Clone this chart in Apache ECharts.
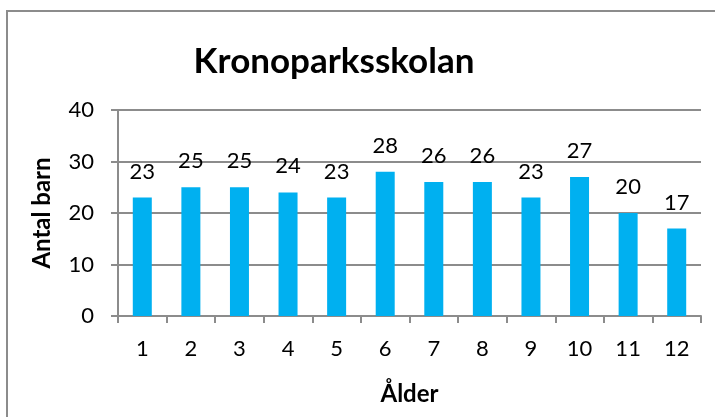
<!DOCTYPE html>
<html>
<head>
<meta charset="utf-8">
<script src="https://cdn.jsdelivr.net/npm/echarts@6/dist/echarts.min.js"></script>
<style>
  html, body { margin: 0; padding: 0; background: #fff; }
  #frame { position: absolute; left: 6px; top: 10px; width: 720px; height: 420px; border: 2px solid #8c8c8c; box-sizing: border-box; }
  #chart { width: 715px; height: 417px; position: absolute; left: 0; top: 0; }
</style>
</head>
<body>
<div id="frame"></div>
<div id="chart"></div>
<script>
const ages = ['1', '2', '3', '4', '5', '6', '7', '8', '9', '10', '11', '12'];
const antalBarn = [23, 25, 25, 24, 23, 28, 26, 26, 23, 27, 20, 17];

const chart = echarts.init(document.getElementById('chart'));
const font = 'Lato, "Open Sans", sans-serif';

chart.setOption({
  textStyle: { fontFamily: font },
  title: {
    text: 'Kronoparksskolan',
    left: 329,
    top: 39,
    textAlign: 'center',
    textStyle: { fontSize: 35, fontWeight: 'bold', color: '#000', fontFamily: font }
  },
  grid: { left: 118, right: 14, top: 110, bottom: 101, containLabel: false },
  xAxis: {
    type: 'category',
    data: ages,
    name: 'Ålder',
    nameLocation: 'middle',
    nameGap: 66,
    nameTextStyle: { fontSize: 24, fontWeight: 'bold', color: '#000' },
    axisLine: { lineStyle: { color: '#8c8c8c', width: 2 } },
    axisTick: { show: true, alignWithLabel: false, length: 7, lineStyle: { color: '#8c8c8c', width: 2 } },
    axisLabel: { fontSize: 22, color: '#000', margin: 22 }
  },
  yAxis: {
    type: 'value',
    min: 0,
    max: 40,
    interval: 10,
    name: 'Antal barn',
    nameLocation: 'middle',
    nameGap: 64,
    nameRotate: 90,
    nameTextStyle: { fontSize: 24, fontWeight: 'bold', color: '#000' },
    axisLine: { show: true, lineStyle: { color: '#8c8c8c', width: 2 } },
    axisTick: { show: true, length: 7, lineStyle: { color: '#8c8c8c', width: 2 } },
    axisLabel: { fontSize: 22, color: '#000', margin: 24 },
    splitLine: { lineStyle: { color: '#8c8c8c', width: 2 } }
  },
  series: [{
    type: 'bar',
    data: antalBarn,
    barWidth: 19,
    itemStyle: { color: '#00B0F0' },
    label: { show: true, position: 'top', distance: 15, fontSize: 22, color: '#000' }
  }]
});
</script>
</body>
</html>
